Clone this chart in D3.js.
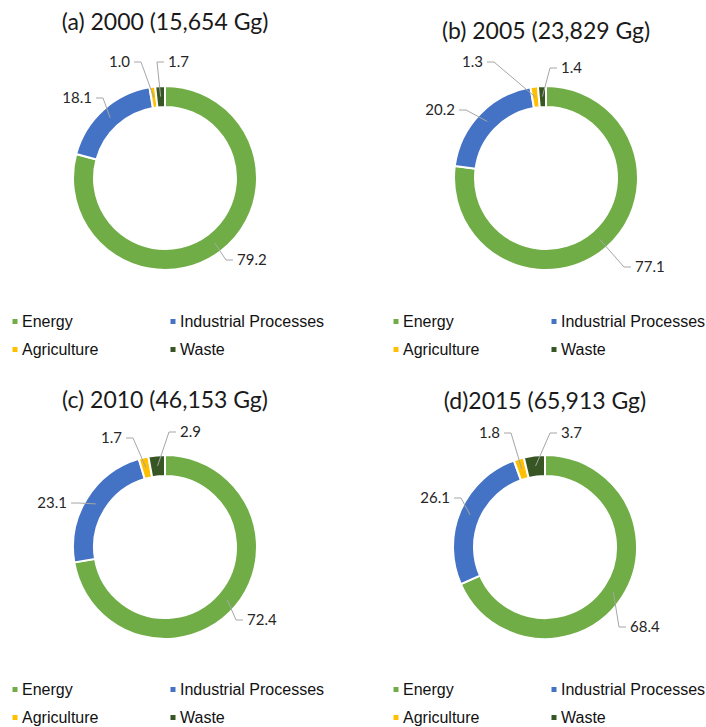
<!DOCTYPE html>
<html>
<head>
<meta charset="utf-8">
<script src="https://cdn.jsdelivr.net/npm/d3@7"></script>
<style>
  html, body { margin: 0; padding: 0; background: #fff; }
  svg { display: block; }
</style>
</head>
<body>
<svg id="chart" width="706" height="727"></svg>
<script>
// ---------- DATA ----------
const categories = ["Energy", "Industrial Processes", "Agriculture", "Waste"];
const panelTitles = ["(a) 2000 (15,654 Gg)", "(b) 2005 (23,829 Gg)", "(c) 2010 (46,153 Gg)", "(d)2015 (65,913 Gg)"];
const shares2000 = [79.2, 18.1, 1.0, 1.7];
const shares2005 = [77.1, 20.2, 1.3, 1.4];
const shares2010 = [72.4, 23.1, 1.7, 2.9];
const shares2015 = [68.4, 26.1, 1.8, 3.7];
const panelShares = [shares2000, shares2005, shares2010, shares2015];

// ---------- STYLE / LAYOUT ----------
const colors = ["#70AD47", "#4472C4", "#FFC000", "#375623"];
const panelLayout = [
  { cx: 165, cy: 178, titleY: 30, legendX: [15, 173], legendY: [327, 355] },
  { cx: 546, cy: 178, titleY: 39, legendX: [396, 554], legendY: [327, 355] },
  { cx: 165, cy: 547, titleY: 408, legendX: [15, 173], legendY: [695, 723] },
  { cx: 545, cy: 547, titleY: 409, legendX: [396, 554], legendY: [695, 723] }
];
// label offsets relative to donut centre (layout only); side: -1 left (end-anchored), 1 right
const labelOffsets = [
  [{dx: 72, dy: 82, side: 1}, {dx: -73, dy: -80, side: -1}, {dx: -35, dy: -116, side: -1}, {dx: 3, dy: -116, side: 1}],
  [{dx: 89, dy: 89, side: 1}, {dx: -91, dy: -68, side: -1}, {dx: -63, dy: -116, side: -1}, {dx: 15, dy: -110, side: 1}],
  [{dx: 82, dy: 73, side: 1}, {dx: -98, dy: -44, side: -1}, {dx: -43, dy: -109, side: -1}, {dx: 15, dy: -115, side: 1}],
  [{dx: 85, dy: 80, side: 1}, {dx: -95, dy: -49, side: -1}, {dx: -45, dy: -114, side: -1}, {dx: 16, dy: -114, side: 1}]
];
const outerR = 92, innerR = 71;

const svg = d3.select("#chart");
const pie = d3.pie().sort(null).value(d => d);
const arc = d3.arc().innerRadius(innerR).outerRadius(outerR);

panelShares.forEach((shares, pi) => {
  const L = panelLayout[pi];

  // title
  svg.append("text")
    .attr("x", L.cx).attr("y", L.titleY)
    .attr("text-anchor", "middle")
    .attr("font-family", "Lato, 'Open Sans', sans-serif")
    .attr("font-size", 23)
    .attr("fill", "#1a1a1a")
    .text(panelTitles[pi]);

  const g = svg.append("g").attr("transform", `translate(${L.cx},${L.cy})`);
  const arcs = pie(shares);

  g.selectAll("path.seg").data(arcs).enter().append("path")
    .attr("class", "seg")
    .attr("d", arc)
    .attr("fill", (d, i) => colors[i])
    .attr("stroke", "#fff")
    .attr("stroke-width", 2);

  // labels with leader lines
  arcs.forEach((a, i) => {
    const off = labelOffsets[pi][i];
    const c = arc.centroid(a);
    const x0 = off.dx - off.side * 4;
    const x1 = off.dx - off.side * 11;
    g.append("polyline")
      .attr("points", `${x0},${off.dy} ${x1},${off.dy} ${c[0]},${c[1]}`)
      .attr("fill", "none")
      .attr("stroke", "#A6A6A6")
      .attr("stroke-width", 1);
    g.append("text")
      .attr("x", off.dx).attr("y", off.dy)
      .attr("dy", "0.35em")
      .attr("text-anchor", off.side > 0 ? "start" : "end")
      .attr("font-family", "Lato, 'Open Sans', sans-serif")
      .attr("font-size", 15)
      .attr("fill", "#262626")
      .text(d3.format(".1f")(shares[i]));
  });

  // legend
  categories.forEach((cat, i) => {
    const lx = L.legendX[i % 2];
    const ly = L.legendY[Math.floor(i / 2)];
    svg.append("rect")
      .attr("x", lx - 2.5).attr("y", ly - 8)
      .attr("width", 5).attr("height", 5)
      .attr("fill", colors[i]);
    svg.append("text")
      .attr("x", lx + 7).attr("y", ly)
      .attr("font-family", "'Liberation Sans', Arial, sans-serif")
      .attr("font-size", 16)
      .attr("fill", "#111")
      .text(cat);
  });
});
</script>
</body>
</html>
